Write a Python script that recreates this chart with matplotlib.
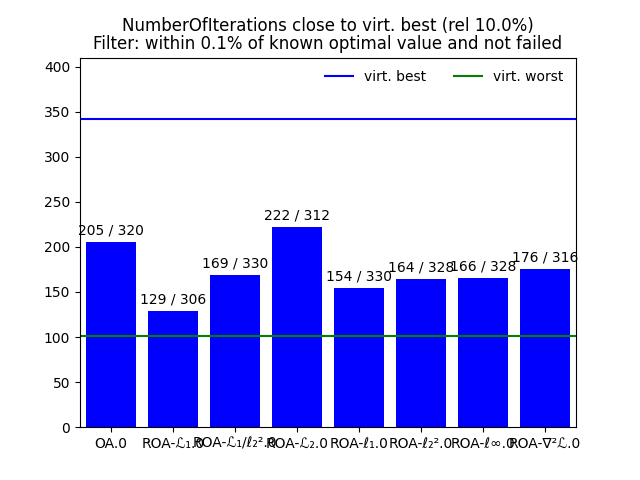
import matplotlib.pyplot as plt
import numpy as np

# data
labels = ['OA.0', 'ROA-ℒ₁.0', 'ROA-ℒ₁/ℓ₂².0', 'ROA-ℒ₂.0',
          'ROA-ℓ₁.0', 'ROA-ℓ₂².0', 'ROA-ℓ∞.0', 'ROA-∇²ℒ.0']
close_counts = [205, 129, 169, 222, 154, 164, 166, 176]
total_counts = [320, 306, 330, 312, 330, 328, 328, 316]
virt_best = 342
virt_worst = 101

fig, ax = plt.subplots(figsize=(6.4, 4.8), dpi=100)
x = np.arange(len(labels))
ax.bar(x, close_counts, width=0.8, color='blue')
for i in range(len(x)):
    ax.text(x[i], close_counts[i] + 5, '{} / {}'.format(close_counts[i], total_counts[i]), ha='center', va='bottom')

ax.axhline(virt_best, color='blue', label='virt. best')
ax.axhline(virt_worst, color='green', label='virt. worst')

ax.set_xticks(x)
ax.set_xticklabels(labels)
ax.set_xlim(-0.5, len(labels) - 0.5)
ax.set_ylim(0, 410)
ax.legend(loc='upper right', ncol=2, frameon=False)
ax.set_title('NumberOfIterations close to virt. best (rel 10.0%)\n'
             'Filter: within 0.1% of known optimal value and not failed', linespacing=1.0)
plt.savefig('out.png')
